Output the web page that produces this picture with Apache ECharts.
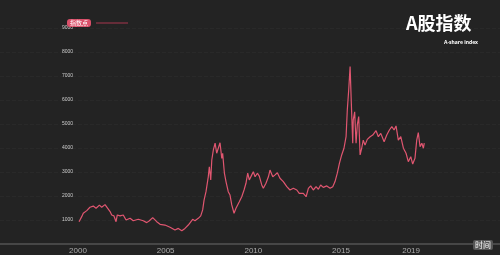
<!DOCTYPE html>
<html>
<head>
<meta charset="utf-8">
<script src="https://cdn.jsdelivr.net/npm/echarts@6/dist/echarts.min.js"></script>
<style>
html,body{margin:0;padding:0;background:#232323;}
#c{width:500px;height:255px;}
</style>
</head>
<body>
<div id="c"></div>
<script>
const seriesName = '指数点';
const titleText = 'A股指数';
const subText = 'A-share index';
const axisNameX = '时间';
const xTickYears = [2000, 2005, 2010, 2015, 2019];
const years = [
2000.06,2000.21,2000.30,2000.50,2000.68,2000.87,2001.03,2001.22,2001.35,2001.54,
2001.64,2001.83,2001.92,2002.05,2002.17,2002.24,2002.40,2002.58,2002.74,2002.97,
2003.15,2003.44,2003.72,2003.92,2004.07,2004.26,2004.49,2004.68,2004.96,2005.25,
2005.53,2005.72,2005.92,2006.10,2006.29,2006.39,2006.54,2006.67,2006.86,2007.00,
2007.11,2007.19,2007.30,2007.43,2007.49,2007.57,2007.63,2007.72,2007.82,2007.91,
2008.00,2008.10,2008.20,2008.25,2008.35,2008.44,2008.57,2008.67,2008.77,2008.90,
2009.01,2009.09,2009.20,2009.34,2009.47,2009.58,2009.68,2009.77,2009.91,2010.00,
2010.10,2010.23,2010.34,2010.48,2010.57,2010.72,2010.86,2010.95,2011.11,2011.24,
2011.37,2011.52,2011.71,2011.91,2012.09,2012.28,2012.48,2012.62,2012.85,2013.01,
2013.14,2013.27,2013.42,2013.58,2013.71,2013.84,2013.99,2014.19,2014.38,2014.53,
2014.66,2014.79,2014.91,2015.04,2015.17,2015.29,2015.36,2015.44,2015.52,2015.59,
2015.67,2015.70,2015.78,2015.86,2015.93,2016.01,2016.09,2016.18,2016.27,2016.37,
2016.50,2016.66,2016.81,2017.00,2017.13,2017.27,2017.46,2017.61,2017.76,2017.90,
2018.03,2018.14,2018.27,2018.41,2018.56,2018.71,2018.84,2018.98,2019.09,2019.22,
2019.32,2019.41,2019.51,2019.61,2019.70,2019.75
];
const values = [
930,1140,1280,1390,1530,1580,1490,1620,1530,1640,
1560,1350,1210,1170,930,1210,1170,1210,1000,1070,
970,1030,970,890,970,1100,930,820,790,700,
580,650,550,650,790,860,1030,970,1070,1170,
1420,1830,2180,2800,3220,2670,3500,3920,4200,3780,
3850,4220,3570,3780,2950,2600,2180,2040,1630,1280,
1490,1420,1760,1970,2250,2530,2950,2670,2880,3010,
2800,2950,2830,2460,2320,2530,2800,3080,2800,2880,
2970,2740,2600,2390,2250,2320,2250,2110,2110,1970,
2320,2420,2250,2390,2280,2460,2360,2420,2320,2390,
2600,2950,3360,3710,3990,4470,5580,6420,7390,5860,
4200,5170,5510,4200,4960,5310,3710,3990,4330,4120,
4360,4470,4540,4720,4470,4610,4260,4540,4750,4890,
4750,4920,4330,4470,3990,3780,3430,3640,3330,3570,
4330,4640,4050,4200,3990,4200
];

const data = years.map((y, i) => [y, values[i]]);

const chart = echarts.init(document.getElementById('c'), null, {renderer: 'canvas'});
chart.setOption({
  backgroundColor: '#232323',
  animation: false,
  title: [{
    text: titleText,
    left: 401,
    top: 9,
    textStyle: {color: '#ffffff', fontSize: 18, fontWeight: 'bold', fontFamily: 'Noto Sans CJK SC'}
  }, {
    text: subText,
    left: 439,
    top: 35,
    textStyle: {color: '#ffffff', fontSize: 5, fontWeight: 'bold', fontFamily: 'Noto Sans'}
  }],
  legend: {
    left: 62,
    top: 14,
    align: 'right',
    icon: 'rect',
    itemWidth: 32,
    itemHeight: 1.5,
    itemGap: 10,
    itemStyle: {color: '#7d3040'},
    textStyle: {
      color: '#ffffff', fontSize: 6, fontFamily: 'Noto Sans CJK SC',
      backgroundColor: '#d9506a', borderRadius: 3, padding: [1, 3]
    },
    data: [seriesName]
  },
  graphic: [{
    type: 'text',
    right: 7,
    top: 240,
    z: 100,
    style: {
      text: axisNameX,
      fill: '#ffffff',
      font: '8px "Noto Sans CJK SC"',
      backgroundColor: '#555555',
      borderRadius: 2,
      padding: [1, 2]
    }
  }],
  grid: {left: 0, right: 0, top: 28, bottom: 11},
  xAxis: {
    type: 'value',
    min: 1995.55,
    max: 2024.07,
    axisLine: {show: true, lineStyle: {color: '#474747', width: 2}},
    axisTick: {show: false},
    splitLine: {show: false},
    axisLabel: {
      customValues: xTickYears,
      color: '#aaaaaa', fontSize: 8, margin: 3,
      formatter: v => String(Math.round(v))
    }
  },
  yAxis: {
    type: 'value',
    min: 0,
    max: 9000,
    interval: 1000,
    axisLine: {show: false},
    axisTick: {show: false},
    axisLabel: {
      inside: true, margin: 62, showMinLabel: false,
      color: '#cccccc', fontSize: 5,
      formatter: v => String(v)
    },
    splitLine: {show: true, lineStyle: {color: 'rgba(255,255,255,0.03)', type: 'dashed'}}
  },
  series: [{
    name: seriesName,
    type: 'line',
    data: data,
    symbol: 'none',
    lineStyle: {color: '#e05670', width: 1.2},
    itemStyle: {color: '#e05670'}
  }]
});
</script>
</body>
</html>
